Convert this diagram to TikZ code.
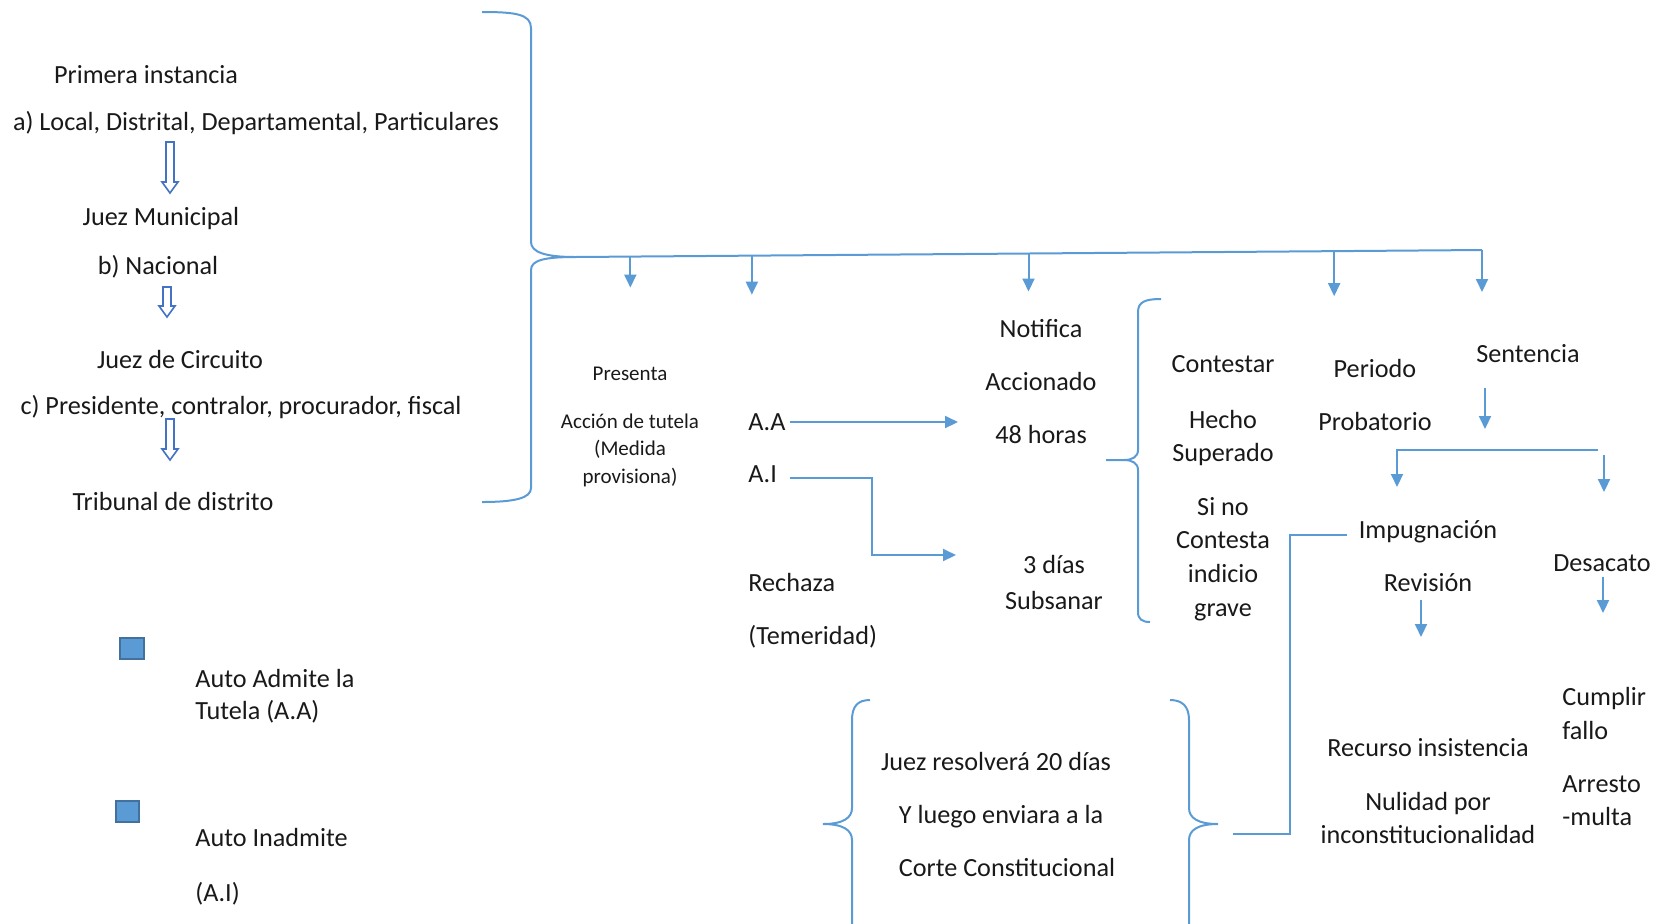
\documentclass[tikz,border=0pt]{standalone}
\usepackage{fontspec}
\setmainfont{Carlito}
\usetikzlibrary{arrows.meta,calc}
\definecolor{lnblue}{RGB}{91,155,213}
\definecolor{arblue}{RGB}{68,114,196}
\definecolor{sqedge}{RGB}{65,113,156}
\definecolor{ink}{RGB}{25,25,25}
% hollow block arrow pointing down: x, top y, bottom y
\newcommand{\downblock}[3]{%
  \draw[hollow] (#1-4,#2) -- (#1+4,#2) -- (#1+4,#3-11) -- (#1+8,#3-11)
    -- (#1,#3) -- (#1-8,#3-11) -- (#1-4,#3-11) -- cycle;}
\begin{document}
\begin{tikzpicture}[x=0.5pt,y=-0.5pt,
  txt/.style={inner sep=0pt, anchor=base, text=ink, align=center,
    font=\fontsize{13.1}{16.5}\selectfont},
  txtl/.style={txt, anchor=base west, align=left},
  small/.style={txt, font=\fontsize{10.5}{13.75}\selectfont},
  conn/.style={draw=lnblue, line width=1pt},
  arr/.style={conn, -{Triangle[length=6.5pt,width=6pt]}},
  hollow/.style={draw=arblue, fill=white, line width=0.8pt, line join=miter},
  brace/.style={draw=lnblue, line width=1pt},
  legendsq/.style={draw=sqedge, fill=lnblue, line width=0.8pt}]
\useasboundingbox (0,0) rectangle (1660,923);
\clip (0,0) rectangle (1660,923);

% ---- courts column ----
\node[txt] (pi) at (146,83)  {Primera instancia};
\node[txt] (la) at (256,130) {a) Local, Distrital, Departamental, Particulares};
\node[txt] (jm) at (161,225) {Juez Municipal};
\node[txt] (bn) at (158,274) {b) Nacional};
\node[txt] (jc) at (180,368) {Juez de Circuito};
\node[txt] (cp) at (241,414) {c) Presidente, contralor, procurador, fiscal};
\node[txt] (td) at (173,510) {Tribunal de distrito};
\downblock{170}{142}{193}
\downblock{167}{287}{317}
\downblock{170}{419}{460}

% ---- big brace and trunk ----
\coordinate (bTip) at (575,257);
\coordinate (trunkR) at (1482,250);
\draw[brace] (482,12) .. controls (515,12) and (531,14) .. (531,28) -- (531,242)
  .. controls (531,252) and (545,257) .. (bTip)
  .. controls (545,257) and (531,260) .. (531,270) -- (531,488)
  .. controls (531,498) and (515,502) .. (482,502);
\draw[conn] (bTip) -- (trunkR);
\draw[arr] ($(bTip)!0.061!(trunkR)$) -- ++(0,31);
\draw[arr] ($(bTip)!0.195!(trunkR)$) -- ++(0,39);
\draw[arr] ($(bTip)!0.500!(trunkR)$) -- ++(0,38);
\draw[arr] ($(bTip)!0.837!(trunkR)$) -- ++(0,45);
\draw[arr] (trunkR) -- ++(0,42);

% ---- filing ----
\node[small] (pr) at (630,380) {Presenta};
\node[small] (at) at (630,483) {Acción de tutela\\(Medida\\provisiona)};
\node[txtl] (aa) at (748,430) {A.A};
\node[txtl] (ai) at (748,482) {A.I};
\node[txtl] (re) at (748,591) {Rechaza};
\node[txtl] (tm) at (748,644) {(Temeridad)};
\coordinate (aaL) at (790,422);
\coordinate (aaE) at (958,422);
\draw[arr] (aaL) -- (aaE);
\coordinate (aiL) at (790,478);
\coordinate (aiE) at (956,555);
\draw[arr] (aiL) -| (872,555) -- (aiE);

\node[txt] (no) at (1041,337) {Notifica};
\node[txt] (ac) at (1041,390) {Accionado};
\node[txt] (hr) at (1041,443) {48 horas};
\node[txt] (sd) at (1054,609) {3 días\\[1.5pt]Subsanar};

% ---- reply brace ----
\coordinate (mTip) at (1106,460);
\draw[brace] (1161,299) .. controls (1145,299) and (1138,302) .. (1138,312) -- (1138,450)
  .. controls (1138,457) and (1132,460) .. (1124,460) -- (mTip);
\draw[brace] (1124,460) .. controls (1132,460) and (1138,463) .. (1138,470) -- (1138,612)
  .. controls (1138,619) and (1142,622) .. (1150,622);
\node[txt] (co) at (1223,372) {Contestar};
\node[txt] (hs) at (1223,461) {Hecho\\Superado};
\node[txt] (sn) at (1223,616) {Si no\\[0.3pt]Contesta\\[0.3pt]indicio\\[0.3pt]grave};

\node[txt] (pe) at (1375,377) {Periodo};
\node[txt] (pb) at (1375,430) {Probatorio};
\node[txt] (se) at (1528,362) {Sentencia};

% ---- after the judgment ----
\draw[arr] (1485,388) -- (1485,429);
\draw[arr] (1598,450) -- (1397,450) -- (1397,487);
\draw[arr] (1604,455) -- (1604,492);
\node[txt] (im) at (1428,538) {Impugnación};
\node[txt] (rv) at (1428,591) {Revisión};
\draw[arr] (1421,600) -- (1421,637);
\node[txt] (de) at (1602,571) {Desacato};
\draw[arr] (1603,577) -- (1603,613);
\node[txtl] (cf) at (1562,739) {Cumplir\\[0.5pt]fallo};
\node[txtl] (am) at (1562,825) {Arresto\\-multa};
\node[txt] (ri) at (1428,756) {Recurso insistencia};
\node[txt] (nu) at (1428,843) {Nulidad por\\inconstitucionalidad};

% ---- Corte Constitucional braces ----
\coordinate (lbTip) at (823,824);
\coordinate (rbTip) at (1218,824);
\draw[brace] (870,700) .. controls (858,700) and (852,706) .. (852,720) -- (852,808)
  .. controls (852,818) and (843,824) .. (lbTip)
  .. controls (843,824) and (852,830) .. (852,840) -- (852,930);
\draw[brace] (1170,700) .. controls (1182,700) and (1189,706) .. (1189,720) -- (1189,808)
  .. controls (1189,818) and (1198,824) .. (rbTip)
  .. controls (1198,824) and (1189,830) .. (1189,840) -- (1189,930);
\node[txt] (jr) at (996,770) {Juez resolverá 20 días};
\node[txt] (yl) at (1001,823) {Y luego enviara a la};
\node[txt] (cc) at (1007,876) {Corte Constitucional};
\coordinate (impL) at (1347,535);
\coordinate (rbIn) at (1233,834);
\draw[conn] (impL) -| (1290,834) -- (rbIn);

% ---- legend ----
\draw[legendsq] (120,638) rectangle (144,659);
\draw[legendsq] (116,801) rectangle (139,822);
\node[txtl] (l1) at (195,719) {Auto Admite la\\[-0.5pt]Tutela (A.A)};
\node[txtl] (l2) at (195,846) {Auto Inadmite};
\node[txtl] (l3) at (195,901) {(A.I)};
\end{tikzpicture}
\end{document}
